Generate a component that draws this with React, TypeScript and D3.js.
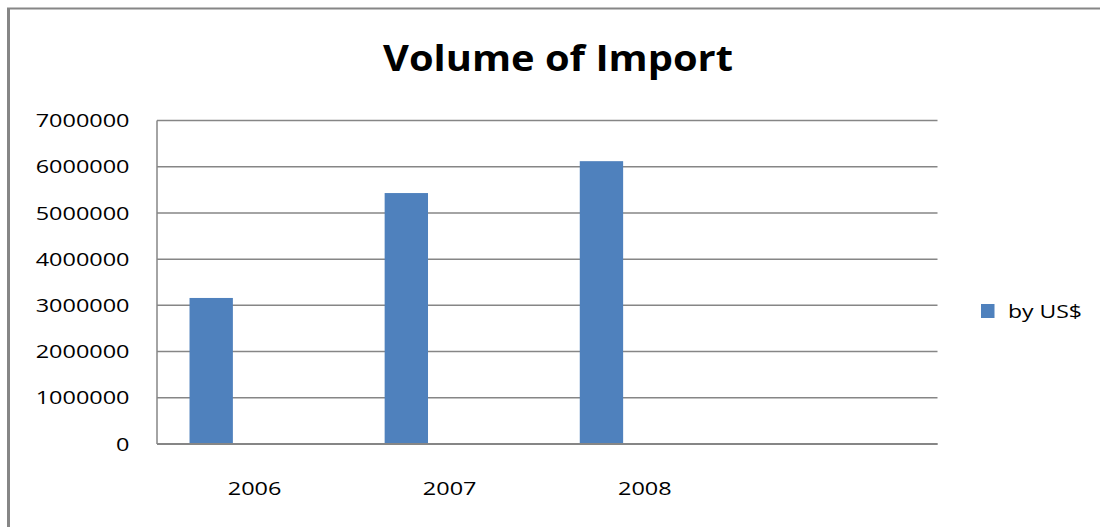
import React from "react";
import * as d3 from "d3";

// Import volume by year (US$)
const categories: string[] = ["2006", "2007", "2008", ""];
const seriesNames: string[] = ["by US$", "", ""];
const byUSD: number[] = [3160000, 5430000, 6120000];
const yTicks: number[] = [0, 1000000, 2000000, 3000000, 4000000, 5000000, 6000000, 7000000];
const titleText = "Volume of Import";

const W = 1100;
const H = 527;
const plot = { left: 157, right: 937.5, top: 120.5, bottom: 444 };
const BAR = "#4F81BD";
const GRID = "#868686";
const FONT = "'Open Sans', 'Liberation Sans', sans-serif";
const DIGIT_W = 13.4;

export default function App() {
  const x = d3.scaleBand<string>().domain(categories).range([plot.left, plot.right]).padding(0);
  const slot = d3
    .scaleBand<string>()
    .domain(seriesNames.map((_, i) => String(i)))
    .range([0, x.bandwidth()])
    .paddingInner(0)
    .paddingOuter(0.75);
  const y = d3.scaleLinear().domain([0, 7000000]).range([plot.bottom, plot.top]);

  return (
    <svg
      width={W}
      height={H}
      style={{ position: "absolute", left: 0, top: 0, background: "#fff" }}
      fontFamily={FONT}
    >
      {/* chart frame */}
      <line x1={8.5} y1={8} x2={8.5} y2={H} stroke={GRID} strokeWidth={3} />
      <line x1={7} y1={8.5} x2={W} y2={8.5} stroke={GRID} strokeWidth={2} />

      <text
        x={558}
        y={71}
        textAnchor="middle"
        fontSize={36}
        fontWeight="bold"
        textLength={350}
        lengthAdjust="spacingAndGlyphs"
        fill="#000"
      >
        {titleText}
      </text>

      {/* gridlines and value axis */}
      {yTicks.map((t) => (
        <g key={t}>
          <line x1={plot.left} x2={plot.right} y1={y(t)} y2={y(t)} stroke={GRID} strokeWidth={1.5} />
          <text
            x={129.5}
            y={y(t) + 6.7}
            textAnchor="end"
            fontSize={19}
            textLength={String(t).length * DIGIT_W}
            lengthAdjust="spacingAndGlyphs"
            fill="#000"
          >
            {t}
          </text>
        </g>
      ))}
      <line x1={plot.left} x2={plot.left} y1={plot.top} y2={plot.bottom} stroke={GRID} strokeWidth={1.5} />

      {/* bars */}
      {byUSD.map((v, i) => (
        <rect
          key={categories[i]}
          x={(x(categories[i]) as number) + (slot("0") as number)}
          y={y(v)}
          width={slot.bandwidth()}
          height={y(0) - y(v)}
          fill={BAR}
        />
      ))}
      <line x1={plot.left} x2={plot.right} y1={y(0)} y2={y(0)} stroke={GRID} strokeWidth={2} />

      {/* category labels */}
      {categories.map((c) =>
        c ? (
          <text
            key={c}
            x={(x(c) as number) + x.bandwidth() / 2}
            y={495}
            textAnchor="middle"
            fontSize={19}
            textLength={c.length * DIGIT_W}
            lengthAdjust="spacingAndGlyphs"
            fill="#000"
          >
            {c}
          </text>
        ) : null
      )}

      {/* legend */}
      <rect x={981} y={304} width={13.5} height={14} fill={BAR} />
      <text x={1008} y={318} fontSize={19} textLength={74} lengthAdjust="spacingAndGlyphs" fill="#000">
        {seriesNames[0]}
      </text>
    </svg>
  );
}
